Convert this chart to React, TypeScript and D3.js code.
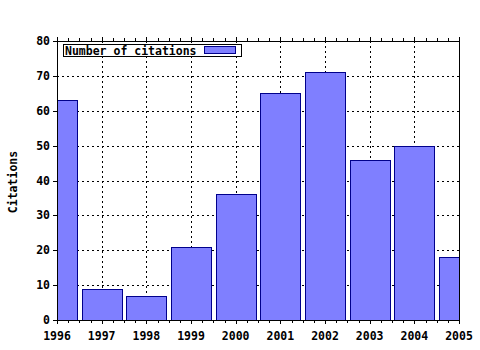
import React from "react";
import * as d3 from "d3";

const years = [1996, 1997, 1998, 1999, 2000, 2001, 2002, 2003, 2004, 2005];
const citations = [63, 9, 7, 21, 36, 65, 71, 46, 50, 18];
const yTicks = [0, 10, 20, 30, 40, 50, 60, 70, 80];
const seriesName = "Number of citations";
const yTitle = "Citations";

const W = 480, H = 350;
const L = 57, R = 459, T = 41, B = 320;
const font = "'DejaVu Sans Mono', monospace";

export default function App() {
  const x = d3.scaleLinear().domain([1996, 2005]).range([L, R]);
  const y = d3.scaleLinear().domain([0, 80]).range([B, T]);
  const step = x(1997) - x(1996);
  const bw = step * 0.9;
  const minor = d3.range(1996, 2005.001, 0.25);
  const c = (v: number) => Math.round(v) + 0.5;
  return (
    <svg width={W} height={H} style={{ position: "absolute", left: 0, top: 0, background: "#fff" }} shapeRendering="crispEdges">
      <defs>
        <clipPath id="plot">
          <rect x={L} y={T} width={R - L} height={B - T} />
        </clipPath>
      </defs>
      {/* grid */}
      {years.slice(1, -1).map((yr) => (
        <line key={"gx" + yr} x1={c(x(yr))} x2={c(x(yr))} y1={T} y2={B} stroke="#000" strokeDasharray="2,3" />
      ))}
      {yTicks.slice(1, -1).map((v) => (
        <line key={"gy" + v} x1={L} x2={R} y1={c(y(v))} y2={c(y(v))} stroke="#000" strokeDasharray="2,3" />
      ))}
      {/* bars */}
      <g clipPath="url(#plot)">
        {years.map((yr, i) => (
          <rect key={yr} x={c(x(yr) - bw / 2)} y={c(y(citations[i]))} width={Math.round(bw)} height={Math.round(y(0) - y(citations[i]))} fill="#7f7fff" stroke="#00008b" />
        ))}
      </g>
      {/* frame */}
      <rect x={c(L)} y={c(T)} width={Math.round(R - L)} height={Math.round(B - T)} fill="none" stroke="#000" />
      {/* x ticks */}
      {minor.map((v, i) => {
        const major = Math.abs(v - Math.round(v)) < 1e-6;
        const len = major ? 4 : 3;
        return (
          <g key={"mt" + i}>
            <line x1={c(x(v))} x2={c(x(v))} y1={B} y2={B + len} stroke="#000" />
            <line x1={c(x(v))} x2={c(x(v))} y1={T} y2={T - len} stroke="#000" />
          </g>
        );
      })}
      {years.map((yr) => (
        <text key={"xl" + yr} x={x(yr)} y={340} textAnchor="middle" fontFamily={font} fontWeight="bold" fontSize={11.5} fill="#000">{yr}</text>
      ))}
      {/* y ticks */}
      {yTicks.map((v) => (
        <g key={"yt" + v}>
          <line x1={L - 4} x2={L} y1={c(y(v))} y2={c(y(v))} stroke="#000" />
          <text x={50} y={y(v) + 4} textAnchor="end" fontFamily={font} fontWeight="bold" fontSize={11.5} fill="#000">{v}</text>
        </g>
      ))}
      <text transform={`translate(17,182) rotate(-90)`} textAnchor="middle" fontFamily={font} fontWeight="bold" fontSize={11.5} fill="#000">{yTitle}</text>
      {/* legend */}
      <rect x={63.5} y={44.5} width={178} height={12} fill="#fff" stroke="#000" />
      <text x={65} y={54.5} fontFamily={font} fontWeight="bold" fontSize={11.5} fill="#000">{seriesName}</text>
      <rect x={204.5} y={46.5} width={31} height={7} fill="#7f7fff" stroke="#00008b" />
    </svg>
  );
}
